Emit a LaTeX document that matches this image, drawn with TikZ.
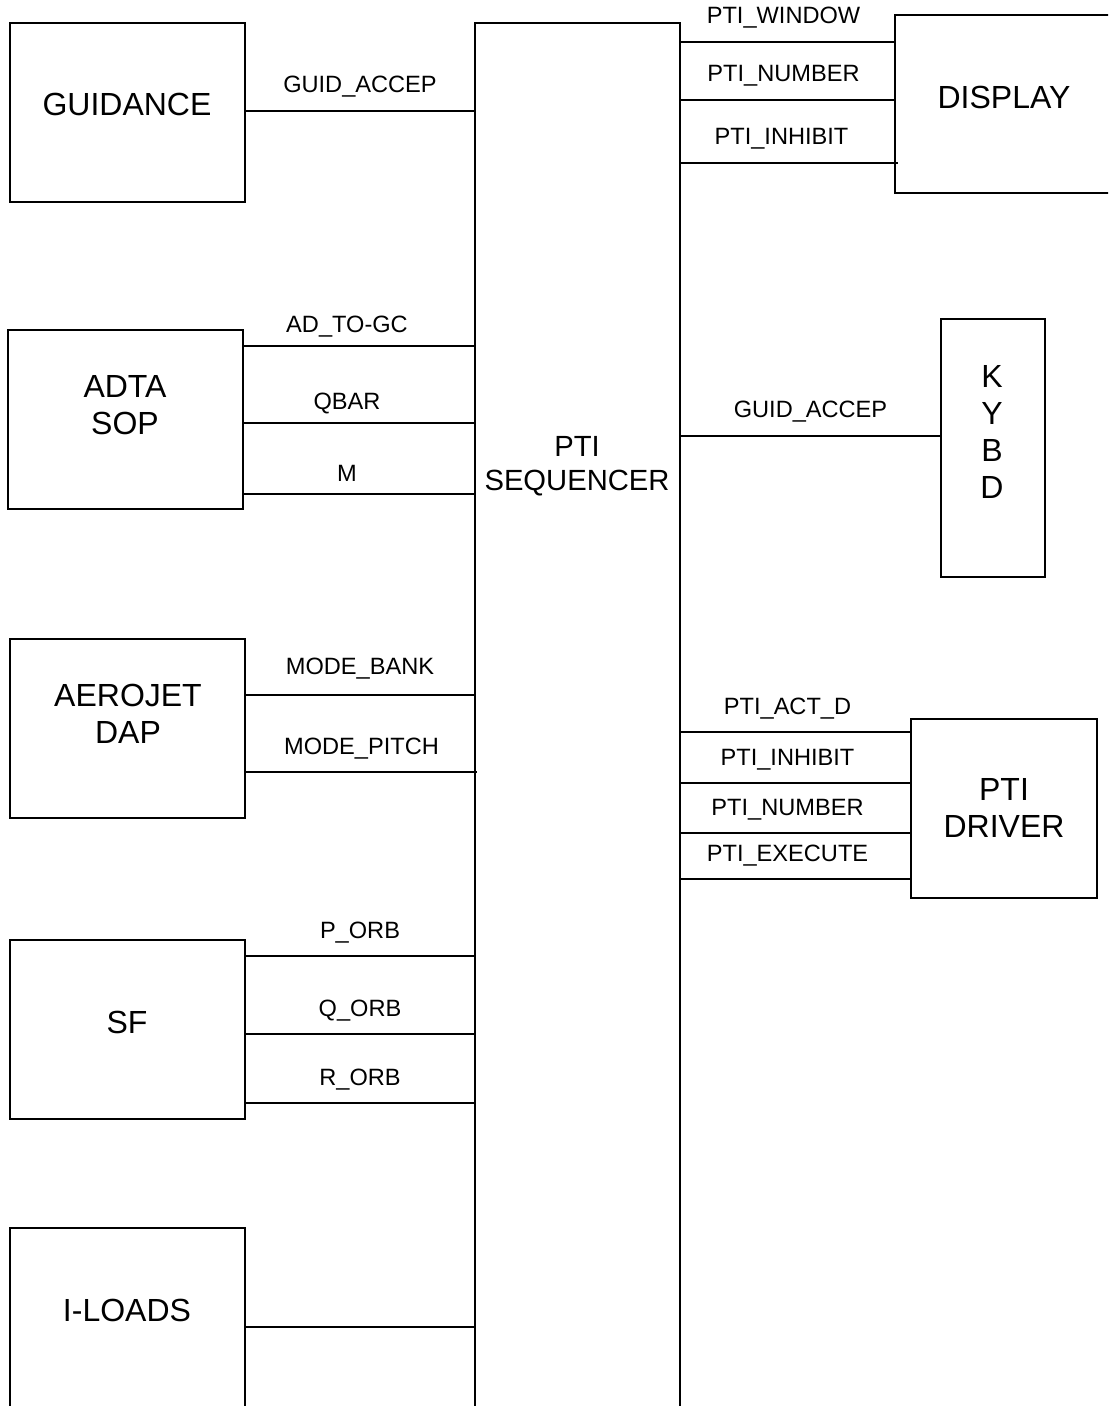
\documentclass[tikz,border=0pt]{standalone}
\usepackage{fontspec}
\setmainfont{Liberation Sans}
\usetikzlibrary{calc}

\begin{document}
\begin{tikzpicture}[x=0.5pt, y=-0.5pt, line join=miter]
  \tikzset{blk/.style={draw, line width=0.9pt, inner sep=0pt}}
  \tikzset{wire/.style={line width=0.9pt}}
  \tikzset{big/.style={font=\fontsize{16}{18.5}\selectfont, align=center, inner sep=0pt}}
  \tikzset{sig/.style={font=\fontsize{11.8}{14}\selectfont, anchor=base, yshift=9pt}}
  \useasboundingbox (0,0) rectangle (1108,1406);
  \clip (0,0) rectangle (1108,1406);
  % left column
  \node[blk, minimum width=117.5pt, minimum height=89.5pt] (guid) at (127.5,112.5) {};
  \node[blk, minimum width=117.5pt, minimum height=89.5pt] (adta) at (125.5,419.5) {};
  \node[blk, minimum width=117.5pt, minimum height=89.5pt] (aero) at (127.5,728.5) {};
  \node[blk, minimum width=117.5pt, minimum height=89.5pt] (sf) at (127.5,1029.5) {};
  \node[blk, minimum width=117.5pt, minimum height=91pt] (iload) at (127.5,1319) {};
  \node[big] (guidtxt) at (127,104) {GUIDANCE};
  \node[big] (adtatxt) at (125,405) {ADTA\\SOP};
  \node[big] (aerotxt) at (128,714) {AEROJET\\DAP};
  \node[big] (sftxt) at (127,1022) {SF};
  \node[big] (iloadtxt) at (127,1310) {I-LOADS};
  % sequencer
  \node[blk, minimum width=102.5pt, minimum height=698.5pt] (seq) at (577.5,721.5) {};
  \node[big, font=\fontsize{14.6}{17}\selectfont] (seqtxt) at (577,466) {PTI\\SEQUENCER};
  % right column
  \node[blk, minimum width=108pt, minimum height=89pt] (disp) at (1003,104) {};
  \node[blk, minimum width=52pt, minimum height=129pt] (kybd) at (993,448) {};
  \node[blk, minimum width=93pt, minimum height=89.5pt] (drv) at (1004,808.5) {};
  \node[big] (disptxt) at (1004,97) {DISPLAY};
  \node[big] (kybdtxt) at (992,432) {K\\Y\\B\\D};
  \node[big] (drvtxt) at (1004,808) {PTI\\DRIVER};
  % signals in
  \draw[wire] (guid.east |- 0,111) -- (seq.west |- 0,111) node[sig, midway] {GUID\_ACCEP};
  \foreach \yy/\txt in {346/AD\_TO-GC, 423/QBAR, 494/M}
    \draw[wire] (adta.east |- 0,\yy) -- (seq.west |- 0,\yy) node[sig, midway, xshift=-6pt, yshift=-2.5pt] {\txt};
  \draw[wire] (aero.east |- 0,695) -- (seq.west |- 0,695) node[sig, midway, yshift=1.5pt] {MODE\_BANK};
  \draw[wire] (aero.east |- 0,772) -- ($(seq.west |- 0,772)+(3,0)$) node[sig, midway] {MODE\_PITCH};
  \foreach \yy/\txt in {956/P\_ORB, 1034/Q\_ORB, 1103/R\_ORB}
    \draw[wire] (sf.east |- 0,\yy) -- (seq.west |- 0,\yy) node[sig, midway] {\txt};
  \draw[wire] (iload.east |- 0,1327) -- (seq.west |- 0,1327);
  % signals out
  \foreach \yy/\txt in {42/PTI\_WINDOW, 100/PTI\_NUMBER}
    \draw[wire] (seq.east |- 0,\yy) -- (disp.west |- 0,\yy) node[sig, midway, xshift=-2pt] {\txt};
  \draw[wire] (seq.east |- 0,163) -- ($(disp.west |- 0,163)+(4,0)$) node[sig, midway, xshift=-4pt] {PTI\_INHIBIT};
  \draw[wire] (seq.east |- 0,436) -- (kybd.west |- 0,436) node[sig, midway] {GUID\_ACCEP};
  \foreach \yy/\txt in {732/PTI\_ACT\_D, 783/PTI\_INHIBIT, 833/PTI\_NUMBER, 879/PTI\_EXECUTE}
    \draw[wire] (seq.east |- 0,\yy) -- (drv.west |- 0,\yy) node[sig, midway, xshift=-4pt] {\txt};
\end{tikzpicture}
\end{document}
